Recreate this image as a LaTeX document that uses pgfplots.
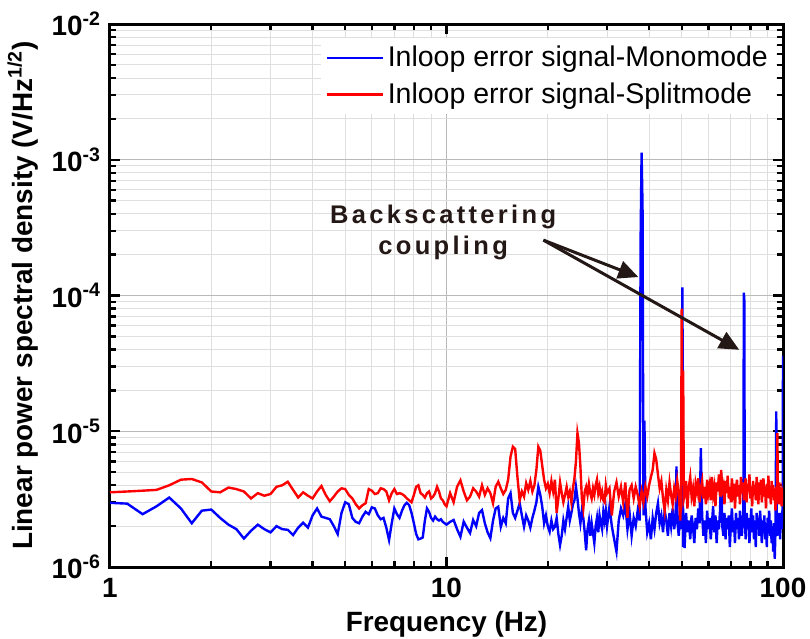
\documentclass[border=0pt]{standalone}
\usepackage{fontspec}
\setmainfont{Liberation Sans}
\usepackage{pgfplots}
\usepackage{pgfplotstable}
\pgfplotsset{compat=1.18}
\usetikzlibrary{arrows.meta}
\definecolor{annot}{HTML}{231815}

\pgfplotstableread[row sep=\\]{
f v\\
1.0 3.55\\ 1.125 3.6\\ 1.25 3.65\\ 1.375 3.7\\ 1.5 4.0\\ 1.625 4.4\\ 1.75 4.45\\ 1.875 4.2\\
2.0 3.6\\ 2.125 3.55\\ 2.25 3.85\\ 2.375 3.75\\ 2.5 3.6\\ 2.625 3.2\\ 2.75 3.5\\ 2.875 3.35\\
3.0 3.45\\ 3.125 3.9\\ 3.25 4.0\\ 3.375 4.25\\ 3.5 3.7\\ 3.625 3.25\\ 3.75 3.55\\ 3.875 3.35\\
4.0 3.2\\ 4.125 3.6\\ 4.25 3.95\\ 4.375 3.4\\ 4.5 3.05\\ 4.625 3.3\\ 4.75 3.6\\ 4.875 3.8\\
5.0 3.75\\ 5.125 3.4\\ 5.25 3.2\\ 5.375 2.9\\ 5.5 2.7\\ 5.625 2.85\\ 5.75 2.95\\ 5.875 3.75\\
6.0 3.65\\ 6.125 3.45\\ 6.25 3.5\\ 6.375 3.8\\ 6.5 3.75\\ 6.625 3.6\\ 6.75 3.1\\ 6.875 3.5\\
7.0 3.75\\ 7.125 3.45\\ 7.25 3.5\\ 7.375 3.45\\ 7.5 3.35\\ 7.625 3.2\\ 7.75 3.1\\ 7.875 3.0\\
8.0 3.4\\ 8.125 3.9\\ 8.25 4.0\\ 8.375 3.5\\ 8.5 3.4\\ 8.625 3.25\\ 8.75 3.5\\ 8.875 3.6\\
9.0 3.2\\ 9.125 3.3\\ 9.25 3.5\\ 9.375 3.9\\ 9.5 3.6\\ 9.625 3.2\\ 9.75 3.1\\ 9.875 2.9\\
10.0 2.8\\ 10.25 3.5\\ 10.5 3.0\\ 10.75 3.9\\ 11.0 4.35\\ 11.25 3.6\\ 11.5 3.1\\ 11.75 3.3\\
12.0 3.8\\ 12.25 3.6\\ 12.5 3.3\\ 12.75 4.0\\ 13.0 3.4\\ 13.25 3.8\\ 13.5 3.5\\ 13.75 2.95\\
14.0 3.9\\ 14.25 4.25\\ 14.5 3.8\\ 14.75 3.45\\ 15.0 3.7\\ 15.25 4.4\\ 15.5 6.5\\ 15.75 7.7\\
16.0 7.4\\ 16.25 4.6\\ 16.5 3.1\\ 16.75 3.6\\ 17.0 3.3\\ 17.25 4.15\\ 17.5 3.7\\ 17.75 4.3\\
18.0 3.6\\ 18.25 4.0\\ 18.5 5.2\\ 18.75 7.7\\ 19.0 7.2\\ 19.25 5.6\\ 19.5 4.4\\ 19.75 3.8\\
20.0 4.1\\ 20.25 3.5\\ 20.5 4.3\\ 20.75 3.6\\ 21.0 4.4\\ 21.25 2.5\\ 21.5 3.2\\ 21.75 4.2\\
22.0 3.5\\ 22.25 3.0\\ 22.5 3.4\\ 22.75 3.9\\ 23.0 3.3\\ 23.25 3.6\\ 23.5 3.0\\ 23.75 3.8\\
24.0 4.5\\ 24.25 6.0\\ 24.5 9.7\\ 24.75 8.2\\ 25.0 5.5\\ 25.25 3.2\\ 25.5 2.7\\ 25.75 3.6\\
26.0 3.9\\ 26.25 3.4\\ 26.5 4.1\\ 26.75 3.5\\ 27.0 3.2\\ 27.25 3.8\\ 27.5 3.4\\ 27.75 4.0\\
28.0 4.4\\ 28.25 3.5\\ 28.5 3.9\\ 28.75 3.3\\ 29.0 3.6\\ 29.25 3.1\\ 29.5 3.0\\ 29.75 4.0\\
30.0 3.5\\ 30.5 3.8\\ 31.0 2.4\\ 31.5 3.6\\ 32.0 4.2\\ 32.5 3.3\\ 33.0 3.9\\ 33.5 3.0\\
34.0 4.2\\ 34.5 2.3\\ 35.0 3.7\\ 35.5 4.0\\ 36.0 3.2\\ 36.5 3.9\\ 37.0 3.4\\ 37.5 2.8\\
38.0 3.6\\ 38.5 3.0\\ 39.0 3.9\\ 39.5 3.3\\ 40.0 4.0\\ 40.5 4.6\\ 41.0 5.2\\ 41.5 6.9\\
42.0 6.2\\ 42.5 4.8\\ 43.0 3.8\\ 43.5 4.3\\ 44.0 3.2\\ 44.5 2.6\\ 45.0 3.7\\ 45.5 3.1\\
46.0 4.2\\ 46.5 3.4\\ 47.0 2.9\\ 47.5 3.8\\ 48.0 3.3\\ 48.5 4.3\\ 49.0 3.5\\ 49.5 2.2\\
49.75 3.0\\ 50.0 80\\ 50.25 4.0\\ 50.5 28\\ 50.75 3.2\\ 51.0 3.4\\ 51.5 4.3\\ 52.0 2.7\\
52.5 3.9\\ 53.0 4.6\\ 53.5 3.3\\ 54.0 3.8\\ 54.5 2.8\\ 55.0 4.1\\ 55.5 3.6\\ 56.0 4.5\\
56.5 3.0\\ 57.0 3.8\\ 57.5 4.3\\ 58.0 3.2\\ 58.5 3.9\\ 59.0 2.9\\ 59.5 4.4\\ 60.0 3.5\\
60.5 4.0\\ 61.0 3.1\\ 61.5 4.6\\ 62.0 3.4\\ 62.5 3.9\\ 63.0 2.8\\ 63.5 4.2\\ 64.0 3.6\\
64.5 4.8\\ 65.0 3.3\\ 65.5 5.2\\ 66.0 3.7\\ 66.5 4.0\\ 67.0 2.9\\ 67.5 4.3\\ 68.0 3.5\\
68.5 4.7\\ 69.0 3.2\\ 69.5 3.9\\ 70.0 3.0\\ 70.5 4.5\\ 71.0 3.6\\ 71.5 4.1\\ 72.0 2.7\\
72.5 3.8\\ 73.0 4.4\\ 73.5 3.3\\ 74.0 4.0\\ 74.5 2.9\\ 75.0 4.6\\ 75.5 3.5\\ 76.0 4.2\\
76.5 3.1\\ 77.0 3.8\\ 77.5 4.5\\ 78.0 3.0\\ 78.5 4.1\\ 79.0 3.6\\ 79.5 4.8\\ 80.0 3.2\\
80.5 3.9\\ 81.0 2.8\\ 81.5 4.3\\ 82.0 3.5\\ 82.5 4.0\\ 83.0 3.1\\ 83.5 4.6\\ 84.0 3.7\\
84.5 2.9\\ 85.0 4.2\\ 85.5 3.4\\ 86.0 4.4\\ 86.5 3.0\\ 87.0 3.8\\ 87.5 4.5\\ 88.0 3.3\\
88.5 3.9\\ 89.0 2.7\\ 89.5 4.1\\ 90.0 3.6\\ 90.5 4.7\\ 91.0 3.2\\ 91.5 3.8\\ 92.0 2.9\\
92.5 4.3\\ 93.0 3.5\\ 93.5 4.0\\ 94.0 3.1\\ 94.5 3.7\\ 95.0 2.6\\ 95.5 3.9\\ 96.0 3.4\\
96.25 9.7\\ 96.5 3.6\\ 97.0 2.9\\ 97.5 4.2\\ 98.0 3.3\\ 98.5 3.8\\ 99.0 2.8\\ 99.5 3.6\\
100 3.4\\
}\splitmode

\pgfplotstableread[row sep=\\]{
f v\\
1.0 2.97\\ 1.125 2.93\\ 1.25 2.45\\ 1.375 2.8\\ 1.5 3.25\\ 1.625 2.7\\ 1.75 2.1\\ 1.875 2.6\\
2.0 2.65\\ 2.125 2.3\\ 2.25 2.05\\ 2.375 1.9\\ 2.5 1.62\\ 2.625 1.85\\ 2.75 2.05\\ 2.875 1.9\\
3.0 1.8\\ 3.125 2.0\\ 3.25 1.9\\ 3.375 1.88\\ 3.5 1.72\\ 3.625 1.95\\ 3.75 2.12\\ 3.875 1.95\\
4.0 2.4\\ 4.125 2.7\\ 4.25 2.35\\ 4.375 2.3\\ 4.5 2.25\\ 4.625 2.0\\ 4.75 1.75\\ 4.875 2.5\\
5.0 3.0\\ 5.125 2.9\\ 5.25 2.3\\ 5.375 2.15\\ 5.5 2.1\\ 5.625 2.35\\ 5.75 2.55\\ 5.875 2.45\\
6.0 2.75\\ 6.125 2.7\\ 6.25 2.4\\ 6.375 2.25\\ 6.5 2.3\\ 6.625 1.95\\ 6.75 1.58\\ 6.875 2.1\\
7.0 2.7\\ 7.125 2.45\\ 7.25 2.3\\ 7.375 2.6\\ 7.5 2.85\\ 7.625 2.97\\ 7.75 2.85\\ 7.875 2.5\\
8.0 2.1\\ 8.125 1.75\\ 8.25 1.6\\ 8.375 1.62\\ 8.5 1.65\\ 8.625 2.2\\ 8.75 2.7\\ 8.875 2.55\\
9.0 2.3\\ 9.125 2.2\\ 9.25 2.35\\ 9.375 2.25\\ 9.5 2.2\\ 9.625 2.25\\ 9.75 2.15\\ 9.875 2.1\\
10.0 2.05\\ 10.25 2.15\\ 10.5 2.22\\ 10.75 1.9\\ 11.0 1.67\\ 11.25 2.16\\ 11.5 1.95\\ 11.75 1.78\\
12.0 2.22\\ 12.25 2.0\\ 12.5 2.5\\ 12.75 2.63\\ 13.0 2.1\\ 13.25 1.8\\ 13.5 1.63\\ 13.75 2.2\\
14.0 2.7\\ 14.25 2.78\\ 14.5 1.98\\ 14.75 2.3\\ 15.0 2.1\\ 15.25 3.2\\ 15.5 3.5\\ 15.75 2.5\\
16.0 2.3\\ 16.25 2.6\\ 16.5 2.95\\ 16.75 2.4\\ 17.0 1.98\\ 17.25 2.4\\ 17.5 2.2\\ 17.75 1.95\\
18.0 2.3\\ 18.25 2.6\\ 18.5 3.0\\ 18.75 3.9\\ 19.0 3.4\\ 19.25 2.8\\ 19.5 2.1\\ 19.75 2.4\\
20.0 2.0\\ 20.25 1.82\\ 20.5 2.2\\ 20.75 1.9\\ 21.0 1.98\\ 21.25 2.3\\ 21.5 1.75\\ 21.75 1.45\\
22.0 1.7\\ 22.25 2.2\\ 22.5 1.9\\ 22.75 2.3\\ 23.0 2.78\\ 23.25 2.2\\ 23.5 2.5\\ 23.75 2.9\\
24.0 3.1\\ 24.25 3.9\\ 24.5 3.2\\ 24.75 2.5\\ 25.0 2.1\\ 25.25 2.6\\ 25.5 2.3\\ 25.75 1.8\\
26.0 1.33\\ 26.25 1.9\\ 26.5 2.2\\ 26.75 1.7\\ 27.0 2.1\\ 27.25 1.78\\ 27.5 1.5\\ 27.75 2.0\\
28.0 2.3\\ 28.25 1.8\\ 28.5 2.4\\ 28.75 2.1\\ 29.0 1.9\\ 29.25 2.55\\ 29.5 2.2\\ 29.75 2.6\\
30.0 2.0\\ 30.5 2.78\\ 31.0 2.0\\ 31.5 1.6\\ 32.0 1.3\\ 32.5 2.2\\ 33.0 2.7\\ 33.5 2.4\\
34.0 2.9\\ 34.5 1.9\\ 35.0 2.5\\ 35.5 1.7\\ 36.0 2.3\\ 36.5 2.0\\ 37.0 2.6\\ 37.5 2.2\\
37.75 260\\ 38.0 1130\\ 38.25 450\\ 38.5 2.4\\ 38.75 12\\ 39.0 2.8\\ 39.5 1.8\\ 40.0 2.1\\
40.5 1.6\\ 41.0 2.3\\ 41.5 1.9\\ 42.0 2.5\\ 42.5 2.95\\ 43.0 2.1\\ 43.5 2.4\\ 44.0 1.8\\
44.5 2.6\\ 45.0 2.2\\ 45.5 1.7\\ 46.0 2.5\\ 46.5 2.0\\ 47.0 2.7\\ 47.5 1.9\\ 48.0 2.4\\
48.25 5.5\\ 48.5 2.2\\ 49.0 1.7\\ 49.5 2.6\\ 50.0 1.9\\ 50.25 115\\ 50.5 1.4\\ 50.75 2.3\\
51.0 1.38\\ 51.5 2.5\\ 52.0 1.8\\ 52.5 2.2\\ 53.0 1.6\\ 53.5 2.4\\ 54.0 2.0\\ 54.5 1.5\\
55.0 2.3\\ 55.5 1.9\\ 56.0 2.7\\ 56.5 2.1\\ 57.0 7.5\\ 57.5 2.4\\ 58.0 1.7\\ 58.5 2.2\\
59.0 1.5\\ 59.5 2.6\\ 60.0 1.9\\ 60.5 2.3\\ 61.0 1.6\\ 61.5 2.1\\ 62.0 2.8\\ 62.5 1.8\\
63.0 2.4\\ 63.5 1.5\\ 64.0 2.2\\ 64.5 1.9\\ 65.0 2.6\\ 65.5 4.9\\ 66.0 2.0\\ 66.5 1.7\\
67.0 2.5\\ 67.5 1.6\\ 68.0 2.3\\ 68.5 1.9\\ 69.0 2.4\\ 69.5 1.4\\ 70.0 2.1\\ 70.5 2.7\\
71.0 1.8\\ 71.5 2.2\\ 72.0 1.5\\ 72.5 2.5\\ 73.0 1.9\\ 73.5 2.3\\ 74.0 1.6\\ 74.5 2.6\\
75.0 2.0\\ 75.5 1.7\\ 76.0 2.4\\ 76.25 2.0\\ 76.5 105\\ 76.75 92\\ 77.0 2.2\\ 77.5 1.6\\
78.0 2.5\\ 78.5 1.9\\ 79.0 2.3\\ 79.5 1.5\\ 80.0 2.1\\ 80.5 2.7\\ 81.0 1.8\\ 81.5 2.4\\
82.0 1.6\\ 82.5 2.2\\ 83.0 1.4\\ 83.5 2.5\\ 84.0 1.9\\ 84.5 2.3\\ 85.0 1.7\\ 85.5 2.6\\
86.0 2.0\\ 86.5 1.5\\ 87.0 2.2\\ 87.5 1.8\\ 88.0 2.4\\ 88.5 1.6\\ 89.0 2.1\\ 89.5 1.4\\
90.0 2.3\\ 90.5 1.9\\ 91.0 2.6\\ 91.5 1.7\\ 92.0 2.2\\ 92.5 1.5\\ 93.0 2.0\\ 93.5 1.3\\
94.0 2.1\\ 94.5 1.15\\ 95.0 1.9\\ 95.5 14\\ 95.75 2.4\\ 96.0 1.7\\ 96.5 2.3\\ 97.0 1.8\\
97.5 2.5\\ 98.0 1.6\\ 98.5 2.2\\ 99.0 1.9\\ 99.5 2.6\\ 99.75 2.2\\ 100 36\\
}\monomode

\begin{document}
\begin{tikzpicture}
\begin{axis}[
  name=ax,
  scale only axis,
  width=336.5bp, height=271.5bp,
  xmode=log, ymode=log,
  xmin=1, xmax=100, ymin=1e-6, ymax=1e-2,
  xtick={1,10,100}, xticklabels={1,10,100},
  ytick={1e-6,1e-5,1e-4,1e-3,1e-2},
  yticklabels={10\textsuperscript{-6},10\textsuperscript{-5},10\textsuperscript{-4},10\textsuperscript{-3},10\textsuperscript{-2}},
  grid=both,
  major grid style={gray!55, line width=0.5bp},
  minor grid style={gray!25, line width=0.5bp},
  axis line style={line width=1.5bp},
  tick style={black, line width=1.2bp},
  major tick length=5bp, minor tick length=3bp,
  ticklabel style={font=\bfseries\fontsize{14}{16}\selectfont},
  xticklabel style={yshift=-2bp},
  yticklabel style={xshift=-1bp},
  label style={font=\bfseries\fontsize{14}{16}\selectfont},
  xlabel={Frequency (Hz)},
  ylabel={Linear power spectral density (V/Hz\textsuperscript{1/2})},
  legend style={at={(rel axis cs:0.99,0.975)}, anchor=north east,
    draw=none, fill=white, font=\fontsize{14.3}{16}\selectfont,
    row sep=2.5bp, inner sep=2bp},
  legend cell align=left,
  legend image code/.code={\draw[#1] (0bp,0bp) -- (28bp,0bp);},
  every axis plot/.append style={line width=1.2bp},
]
\addlegendimage{blue, line width=1.2bp}
\addlegendentry{Inloop error signal-Monomode}
\addlegendimage{red, line width=1.2bp}
\addlegendentry{Inloop error signal-Splitmode}
\addplot[blue, forget plot] table[x=f, y expr=\thisrow{v}*1e-6] {\monomode};
\addplot[red, forget plot] table[x=f, y expr=\thisrow{v}*1e-6] {\splitmode};

\node[font=\bfseries\fontsize{12.8}{15.5}\selectfont\addfontfeatures{LetterSpace=13}, text=annot, align=center]
  at (rel axis cs:0.495,0.616) {Backscattering\\coupling};
\draw[annot, line width=1.5bp, -{Triangle[length=10bp,width=9bp]}]
  (rel axis cs:0.644,0.602) -- (rel axis cs:0.785,0.534);
\draw[annot, line width=1.5bp, -{Triangle[length=10bp,width=9bp]}]
  (rel axis cs:0.644,0.602) -- (rel axis cs:0.935,0.400);
\end{axis}
\pgfresetboundingbox
\path[use as bounding box] ([xshift=-55bp,yshift=-36bp]ax.south west) rectangle ([xshift=13.5bp,yshift=12bp]ax.north east);
\end{tikzpicture}
\end{document}
